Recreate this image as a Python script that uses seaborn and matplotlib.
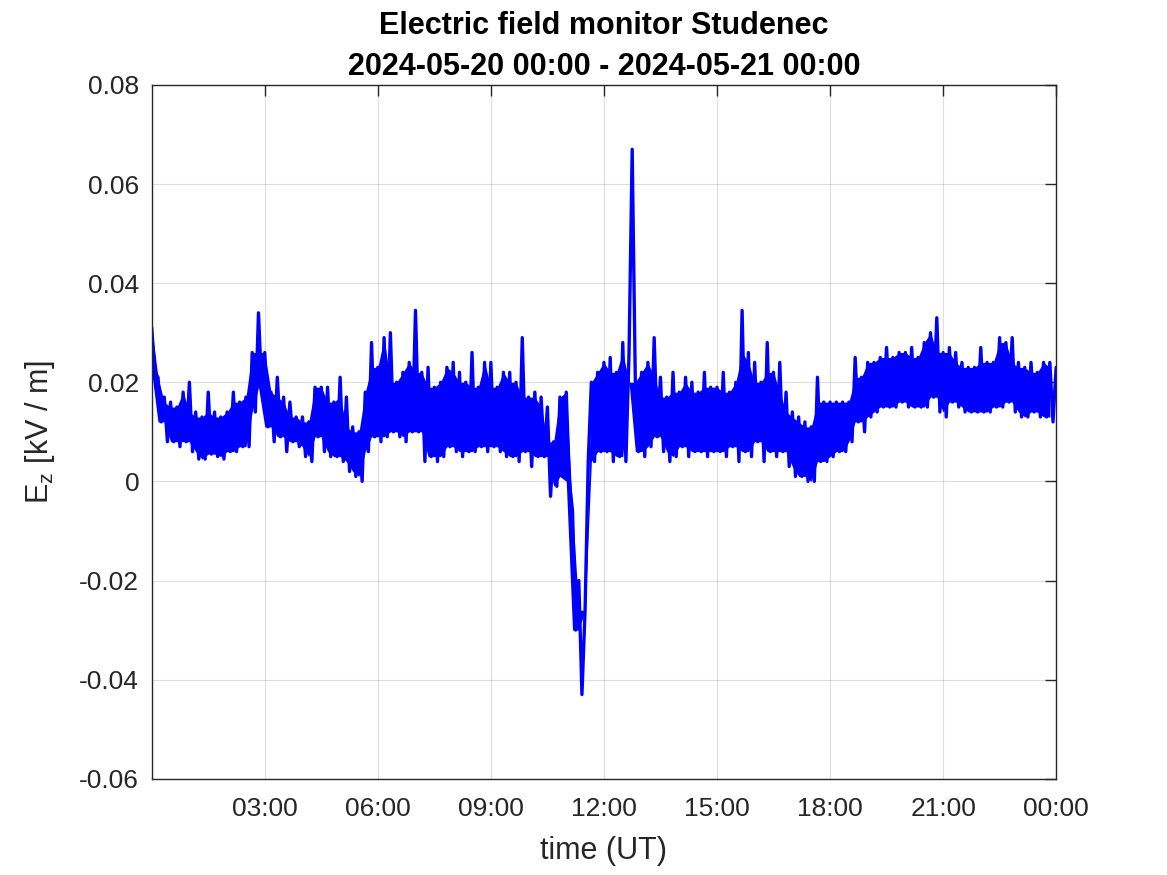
import pandas as pd
import numpy as np
import matplotlib
matplotlib.use("Agg")
import matplotlib.pyplot as plt
import matplotlib.dates as mdates
import seaborn as sns

# Ez [kV/m] every 10 minutes from 2024-05-20 00:00:
# ez_hi = upper excursion at the 10-min mark, ez_lo = lower excursion 5 min later
ez_hi = [
    0.031, 0.021, 0.017, 0.016, 0.015, 0.018,     # 00
    0.020, 0.014, 0.013, 0.018, 0.014, 0.013,     # 01
    0.014, 0.018, 0.016, 0.017, 0.026, 0.034,     # 02
    0.026, 0.018, 0.021, 0.017, 0.016, 0.013,     # 03
    0.013, 0.012, 0.019, 0.019, 0.019, 0.016,     # 04
    0.021, 0.017, 0.011, 0.010, 0.018, 0.028,     # 05
    0.023, 0.029, 0.030, 0.020, 0.022, 0.024,     # 06
    0.0345, 0.022, 0.023, 0.019, 0.020, 0.023,    # 07
    0.024, 0.022, 0.020, 0.026, 0.019, 0.024,     # 08
    0.024, 0.019, 0.022, 0.022, 0.020, 0.029,     # 09
    0.017, 0.018, 0.017, 0.015, 0.008, 0.017,     # 10
    0.018, -0.006, -0.020, -0.026, 0.020, 0.022,  # 11
    0.024, 0.025, 0.022, 0.028, 0.026, 0.020,     # 12
    0.022, 0.024, 0.029, 0.021, 0.017, 0.022,     # 13
    0.018, 0.021, 0.020, 0.018, 0.022, 0.019,     # 14
    0.019, 0.022, 0.018, 0.020, 0.0345, 0.026,    # 15
    0.024, 0.020, 0.028, 0.022, 0.024, 0.018,     # 16
    0.014, 0.013, 0.012, 0.011, 0.021, 0.016,     # 17
    0.016, 0.016, 0.016, 0.016, 0.025, 0.021,     # 18
    0.024, 0.024, 0.025, 0.027, 0.025, 0.026,     # 19
    0.026, 0.027, 0.025, 0.028, 0.030, 0.033,     # 20
    0.026, 0.027, 0.026, 0.024, 0.023, 0.023,     # 21
    0.027, 0.024, 0.024, 0.029, 0.028, 0.029,     # 22
    0.024, 0.023, 0.024, 0.022, 0.024, 0.024,     # 23
]
ez_lo = [
    0.022, 0.012, 0.008, 0.008, 0.007, 0.008,     # 00
    0.006, 0.0045, 0.0045, 0.0055, 0.005, 0.0045, # 01
    0.006, 0.006, 0.007, 0.007, 0.014, 0.019,     # 02
    0.011, 0.008, 0.009, 0.006, 0.008, 0.007,     # 03
    0.005, 0.004, 0.009, 0.006, 0.005, 0.005,     # 04
    0.004, 0.002, 0.001, 0.000, 0.006, 0.009,     # 05
    0.008, 0.009, 0.010, 0.009, 0.008, 0.010,     # 06
    0.010, 0.004, 0.005, 0.004, 0.005, 0.007,     # 07
    0.006, 0.005, 0.006, 0.006, 0.007, 0.006,     # 08
    0.007, 0.006, 0.005, 0.005, 0.004, 0.006,     # 09
    0.003, 0.005, 0.005, -0.003, -0.001, 0.001,   # 10
    0.000, -0.030, -0.043, 0.004, 0.004, 0.006,   # 11
    0.006, 0.004, 0.005, 0.004, 0.067, 0.006,     # 12
    0.005, 0.007, 0.009, 0.006, 0.004, 0.005,     # 13
    0.007, 0.005, 0.006, 0.006, 0.005, 0.006,     # 14
    0.006, 0.005, 0.007, 0.004, 0.006, 0.005,     # 15
    0.008, 0.004, 0.006, 0.005, 0.006, 0.003,     # 16
    0.001, 0.001, 0.000, 0.000, 0.004, 0.004,     # 17
    0.005, 0.006, 0.006, 0.008, 0.012, 0.010,     # 18
    0.013, 0.014, 0.015, 0.015, 0.015, 0.016,     # 19
    0.015, 0.015, 0.015, 0.015, 0.017, 0.014,     # 20
    0.013, 0.016, 0.015, 0.014, 0.014, 0.014,     # 21
    0.014, 0.014, 0.015, 0.015, 0.016, 0.014,     # 22
    0.013, 0.013, 0.014, 0.013, 0.013, 0.012,     # 23
]
ez_end = 0.023

t_start = "2024-05-20 00:00"
t_end = "2024-05-21 00:00"

yticks = [-0.06, -0.04, -0.02, 0, 0.02, 0.04, 0.06, 0.08]
ytick_labels = ["-0.06", "-0.04", "-0.02", "0", "0.02", "0.04", "0.06", "0.08"]
xticks = pd.date_range("2024-05-20 03:00", periods=8, freq="3h")

hi = np.array(ez_hi)
lo = np.array(ez_lo)
t10 = pd.date_range(t_start, periods=len(hi), freq="10min")

# zig-zag trace: hi at the 10-min mark, lo 5 minutes later
ez = np.append(np.column_stack([hi, lo]).ravel(), ez_end)
time = pd.date_range(t_start, periods=len(ez), freq="5min")
df = pd.DataFrame({"time": time, "Ez": ez})

# solid core of the noisy band (single spikes stay outside it)
core_hi = np.minimum(hi, np.r_[hi[1:], ez_end])
core_lo = np.maximum(lo, np.r_[lo[0], lo[:-1]])
steep = (core_lo > core_hi) & (lo < hi)     # fast trends: keep the raw pair
core_hi = np.where(steep, hi, core_hi)
core_lo = np.where(steep, lo, np.minimum(core_lo, core_hi))

sns.set_style("white")
plt.rcParams["font.family"] = ["Liberation Sans", "DejaVu Sans"]
plt.rcParams["mathtext.fontset"] = "custom"
plt.rcParams["mathtext.rm"] = "Liberation Sans"
plt.rcParams["mathtext.it"] = "Liberation Sans"

txt = (0.15, 0.15, 0.15)
blue = (0, 0, 1)

fig = plt.figure(figsize=(11.67, 8.75), dpi=100)
ax = fig.add_axes([0.13, 0.11, 0.775, 0.793])

ax.fill_between(t10, core_lo, core_hi, color=blue, linewidth=0)
sns.lineplot(data=df, x="time", y="Ez", color=blue, linewidth=2.4,
             estimator=None, ax=ax)

ax.set_xlim(pd.Timestamp(t_start), pd.Timestamp(t_end))
ax.set_ylim(-0.06, 0.08)
ax.set_xticks(xticks)
ax.xaxis.set_major_formatter(mdates.DateFormatter("%H:%M"))
ax.set_yticks(yticks)
ax.set_yticklabels(ytick_labels)

ax.grid(True, color=(0.15, 0.15, 0.15), alpha=0.15, linewidth=0.8)
ax.tick_params(direction="in", length=8, width=1, top=True, right=True,
               labelsize=19, colors=txt, labelcolor=txt)
ax.tick_params(axis="x", pad=13)
ax.tick_params(axis="y", pad=9)
for s in ax.spines.values():
    s.set_color(txt)
    s.set_linewidth(1)

ax.set_xlabel("time (UT)", fontsize=22, color=txt, labelpad=11)
ax.set_ylabel("E$_\\mathrm{z}$ [kV / m]", fontsize=22, color=txt, labelpad=16)
ax.set_title("Electric field monitor Studenec\n2024-05-20 00:00 - 2024-05-21 00:00",
             fontsize=22, fontweight="bold", color="black", pad=7, linespacing=1.5)

fig.savefig("out.png", dpi=100)
